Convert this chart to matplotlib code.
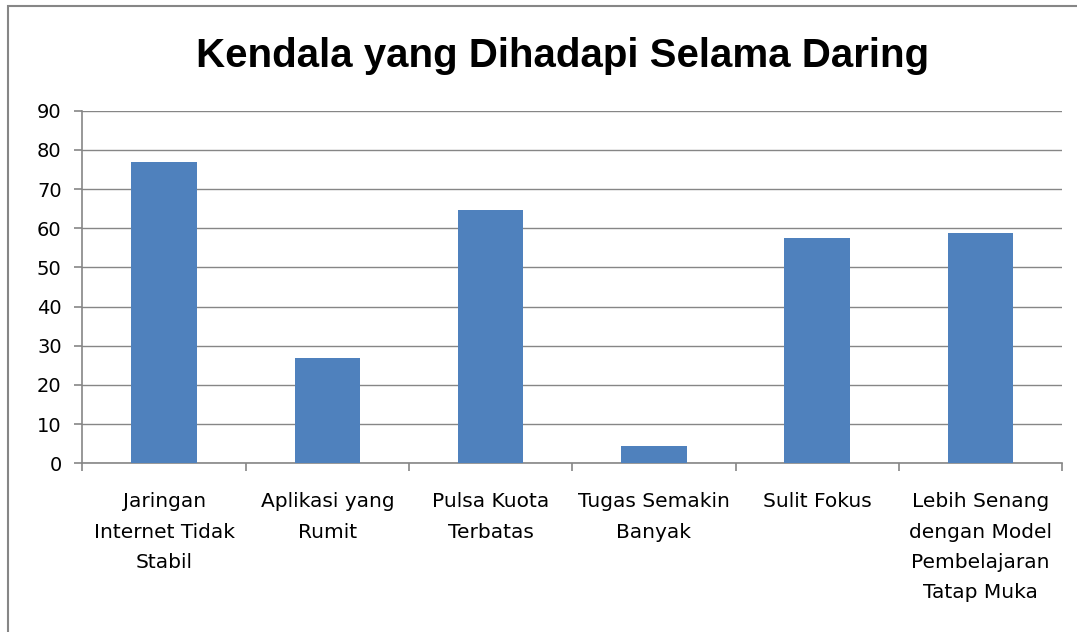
import matplotlib.pyplot as plt
from matplotlib.patches import Rectangle

categories = [
    'Jaringan\nInternet Tidak\nStabil',
    'Aplikasi yang\nRumit',
    'Pulsa Kuota\nTerbatas',
    'Tugas Semakin\nBanyak',
    'Sulit Fokus',
    'Lebih Senang\ndengan Model\nPembelajaran\nTatap Muka',
]
values = [76.9, 27, 64.7, 4.5, 57.5, 58.7]
yticks = [0, 10, 20, 30, 40, 50, 60, 70, 80, 90]

grey = '#868686'

fig = plt.figure(figsize=(10.77, 6.32), dpi=100)
ax = fig.add_axes([0.0766, 0.2669, 0.9095, 0.558])

x = range(len(categories))
ax.bar(x, values, width=0.4, color='#4F81BD', zorder=3)

ax.set_xlim(-0.5, len(categories) - 0.5)
ax.set_ylim(0, 90)
ax.set_yticks(yticks)
ax.set_yticklabels([str(v) for v in yticks], fontsize=14)
ax.yaxis.grid(True, color=grey, linewidth=1.0, zorder=0)

# category boundaries get the ticks, names sit between them
ax.set_xticks([i - 0.5 for i in range(len(categories) + 1)])
ax.set_xticklabels([])
ax.set_xticks(list(x), minor=True)
ax.set_xticklabels(categories, minor=True, fontsize=14.5,
                   linespacing=1.74, va='top')
ax.tick_params(axis='x', which='minor', length=0, pad=21)
ax.tick_params(axis='x', which='major', length=6, color=grey, width=1.2)
ax.tick_params(axis='y', length=6, color=grey, width=1.2, pad=9)

for s in ['top', 'right']:
    ax.spines[s].set_visible(False)
for s in ['left', 'bottom']:
    ax.spines[s].set_color(grey)
    ax.spines[s].set_linewidth(1.2)

# chart area border (cut off on the right and bottom)
fig.patches.append(Rectangle((7.5 / 1077, -0.1), 1.2, 1.1 - 6 / 632,
                             transform=fig.transFigure, fill=False,
                             edgecolor=grey, linewidth=1.5))

fig.text(563 / 1077, 1 - 56 / 632, 'Kendala yang Dihadapi Selama Daring',
         ha='center', va='center', fontsize=29, fontweight='bold',
         family=['Liberation Sans', 'DejaVu Sans'])

fig.savefig('out.png', dpi=100)
